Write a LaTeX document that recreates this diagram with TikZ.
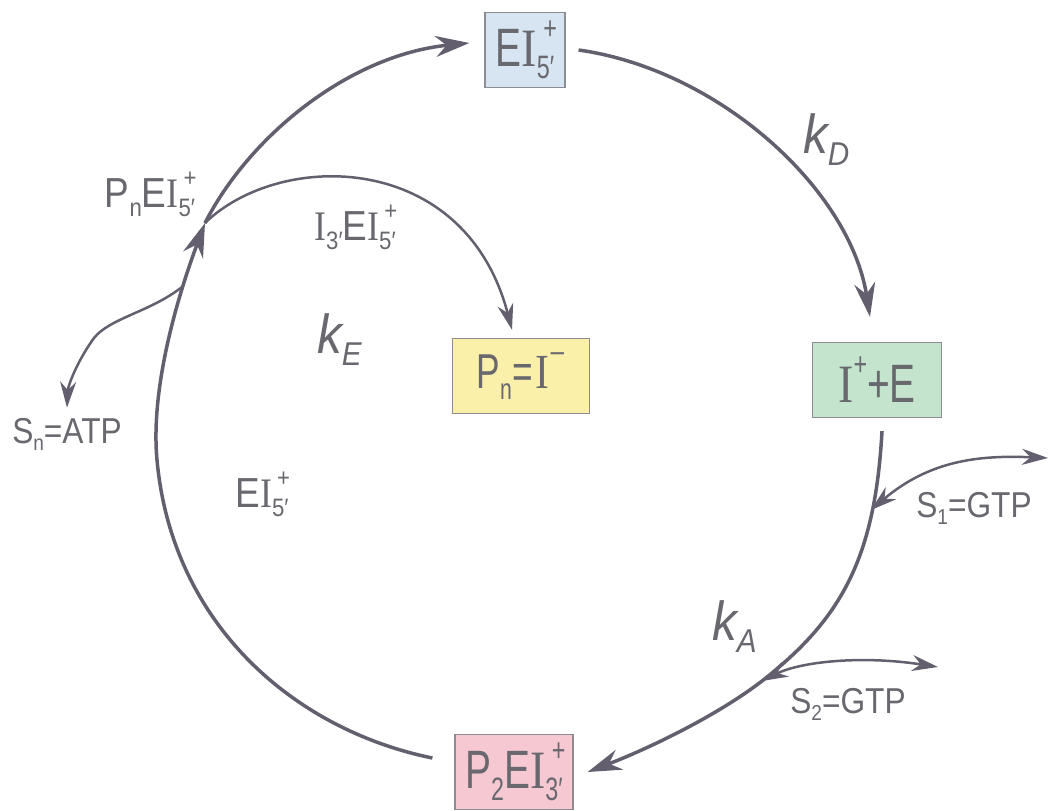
\documentclass[tikz,border=0pt]{standalone}
\usepackage{graphicx}
\usepackage{fontspec}
\setmainfont{Liberation Sans}[FakeStretch=0.72]
\newfontfamily\widesans{Liberation Sans}[FakeStretch=0.88]
\newfontfamily\serifI{Liberation Serif}[FakeStretch=0.85]
\newfontfamily\kfont{Liberation Sans}[FakeStretch=0.9]
\usetikzlibrary{arrows.meta, positioning}
\definecolor{ink}{RGB}{100,95,110}
\definecolor{txtgray}{RGB}{104,104,110}
\definecolor{boxline}{RGB}{140,140,146}
\definecolor{boxblue}{RGB}{215,228,242}
\definecolor{boxyellow}{RGB}{250,240,170}
\definecolor{boxgreen}{RGB}{196,228,206}
\definecolor{boxpink}{RGB}{246,200,210}
\newcommand\Ir{{\serifI I}}
\newcommand\lo[1]{\raisebox{-0.22em}{\scalebox{0.6}{#1}}}
\newcommand\hi[1]{\raisebox{0.5em}{\scalebox{0.6}{#1}}}
\newcommand\hilo[2]{\makebox[0pt][l]{\hspace{0.12em}\hi{#1}}\lo{#2}}
\tikzset{
      species/.style = {draw=boxline, line width=1.2pt, inner sep=0pt,
                        minimum height=75pt, text=txtgray,
                        font=\fontsize{54}{60}\selectfont},
      state/.style   = {text=txtgray, inner sep=0pt,
                        font=\widesans\fontsize{42}{48}\selectfont},
      subst/.style   = {text=txtgray, inner sep=0pt,
                        font=\widesans\fontsize{36}{40}\selectfont},
      rate/.style    = {text=txtgray, inner sep=0pt,
                        font=\kfont\itshape\fontsize{55}{60}\selectfont},
      flow/.style    = {draw=ink, line width=3.5pt,
                        -{Stealth[length=34pt, width=21pt]}},
      side/.style    = {draw=ink, line width=2.5pt},
      sidetip/.tip   = {Stealth[length=26pt, width=16pt]}
    }
\begin{document}
\begin{tikzpicture}[x=1pt, y=-1pt]
  \useasboundingbox (0,0) rectangle (1052,811);
  % species boxes
  \node[species, fill=boxblue, minimum width=80pt] (top) at (525,50) {E\Ir\hilo{+}{5′}};
  \node[species, fill=boxyellow, minimum width=137pt,
        font=\fontsize{49}{54}\selectfont] (pn) at (521,376) {P\lo{n}\kern1pt=\kern2pt\Ir\hi{\scalebox{1.3}[1]{−}}};
  \node[species, fill=boxgreen, minimum width=129pt] (ie) at (877,380) {\Ir\hi{+}+E};
  \node[species, fill=boxpink, minimum width=118pt] (p2) at (514,772) {P\lo{2}E\Ir\hilo{+}{3′}};
  % intermediate labels
  \node[state, anchor=base] (pnei) at (150,207) {P\lo{n}E\Ir\hilo{+}{5′}};
  \node[state, anchor=base] (iei) at (355,240) {\Ir\lo{3′}E\Ir\hilo{+}{5′}};
  \node[state, anchor=base] (ei) at (262,507) {E\Ir\hilo{+}{5′}};
  % substrates
  \node[subst, anchor=base] (atp) at (67,443) {S\lo{n}=ATP};
  \node[subst, anchor=base] (gtp1) at (974,517) {S\lo{1}=GTP};
  \node[subst, anchor=base] (gtp2) at (848,713) {S\lo{2}=GTP};
  % rate constants
  \node[rate, anchor=base west] (kd) at (803,153) {k\lo{D}};
  \node[rate, anchor=base west] (ke) at (317,353) {k\lo{E}};
  \node[rate, anchor=base west] (ka) at (712,640) {k\lo{A}};
  % junctions
  \coordinate (jn) at (205,223);
  \coordinate (jb) at (182,287);
  \coordinate (g1) at (871,510);
  \coordinate (g2) at (762,681);
  \coordinate (s1end) at (1048,458);
  \coordinate (s2end) at (938,667);
  % main cycle
  \draw[flow] ([shift={(-22,-14)}]p2.west) .. controls (295,730) and (172,625) .. (157,460)
              .. controls (150,385) and (180,290) .. (jn);
  \draw[flow] (jn) .. controls (250,135) and (350,55) .. ([shift={(-15,-7)}]top.west);
  \draw[flow] ([xshift=13pt]top.east) .. controls (720,70) and (850,190) .. ([shift={(-7,-25)}]ie.north);
  \draw[flow] ([shift={(5,13)}]ie.south) .. controls (875,560) and (840,620) .. (g2)
              .. controls (718,715) and (650,748) .. ([xshift=14pt]p2.east);
  % side branches
  \draw[side, -sidetip] (jn) .. controls (280,150) and (465,150) .. ([shift={(-9,-8)}]pn.north);
  \draw[side, -sidetip] (jb) .. controls (150,312) and (110,318) .. (94,338)
              .. controls (78,360) and (68,385) .. ([yshift=10pt]atp.north);
  \draw[side, sidetip-sidetip] (g1) .. controls (930,460) and (980,455) .. (s1end);
  \draw[side, sidetip-sidetip] (g2) .. controls (800,662) and (860,655) .. (s2end);
\end{tikzpicture}
\end{document}
